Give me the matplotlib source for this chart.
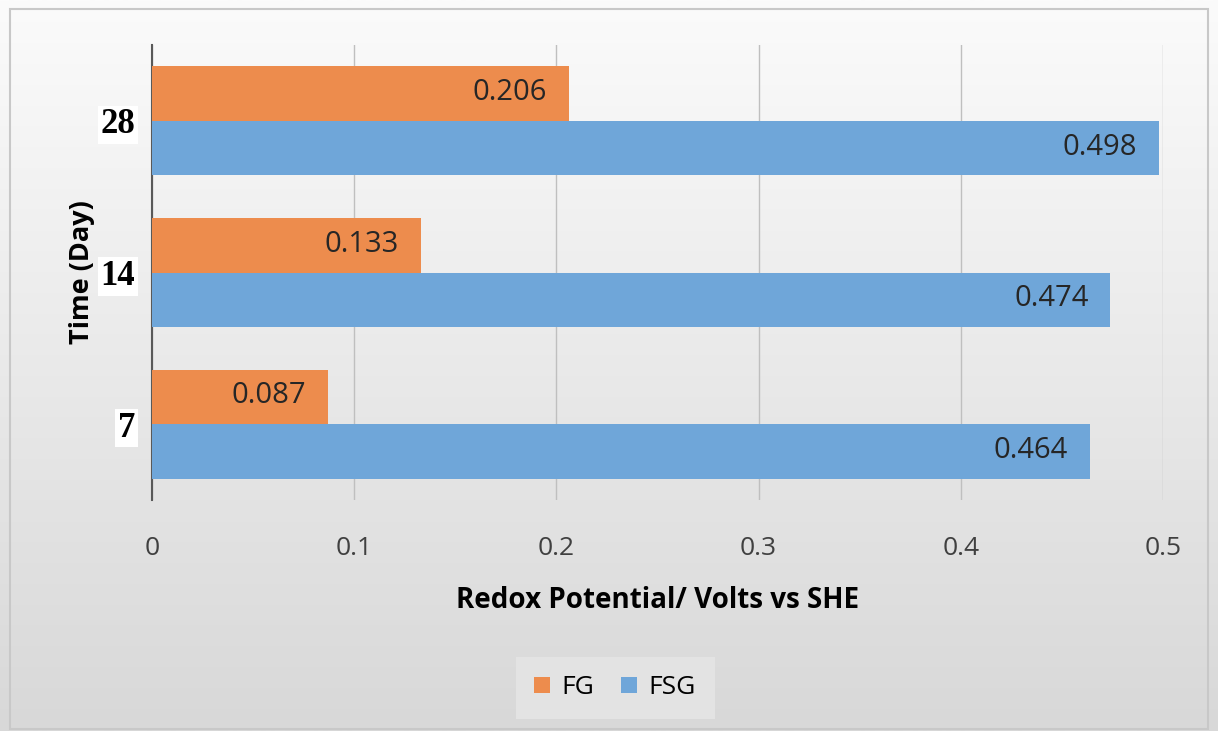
import matplotlib.pyplot as plt
import numpy as np
from matplotlib.patches import Rectangle
from matplotlib.colors import LinearSegmentedColormap

# === Dados ===
dias = ['7', '14', '28']
fg = [0.087, 0.133, 0.206]
fsg = [0.464, 0.474, 0.498]

cor_fg = '#ED8C4D'
cor_fsg = '#6FA6D9'

fig = plt.figure(figsize=(12.18, 7.31), dpi=100)

# fundo em degradê (branco no topo, cinza embaixo)
bg = fig.add_axes([0, 0, 1, 1], zorder=-10)
grad = np.linspace(0, 1, 256).reshape(-1, 1)
bg.imshow(grad, aspect='auto', cmap=LinearSegmentedColormap.from_list('g', ['#fbfbfb', '#d8d8d8']),
          extent=[0, 1, 0, 1], origin='upper')
bg.set_axis_off()
fig.patches.append(Rectangle((0.008, 0.003), 0.984, 0.985, transform=fig.transFigure,
                             fill=False, edgecolor='#c8c8c8', lw=1.5))

ax = fig.add_axes([0.1248, 0.316, 0.830, 0.6224])
ax.patch.set_alpha(0)

y = np.arange(len(dias))
h = 0.36
b1 = ax.barh(y + h / 2, fg, height=h, color=cor_fg, label='FG', zorder=3)
b2 = ax.barh(y - h / 2, fsg, height=h, color=cor_fsg, label='FSG', zorder=3)

# rótulos dentro da ponta das barras
for barras in (b1, b2):
    for b in barras:
        v = b.get_width()
        ax.annotate(f'{v:.3f}', (v, b.get_y() + b.get_height() / 2), xytext=(-22, 1),
                    textcoords='offset pixels', ha='right', va='center',
                    fontsize=21, color='#262626', family='Open Sans', zorder=4)

ax.set_xlim(0, 0.5)
ax.set_ylim(-0.5, 2.5)
ax.set_xticks(np.arange(0, 0.51, 0.1))
ax.set_xticklabels(['0', '0.1', '0.2', '0.3', '0.4', '0.5'], fontsize=19, color='#404040',
                   family='Open Sans')
ax.set_yticks(y)
ax.set_yticklabels(dias, fontsize=25, fontweight='bold', family='Liberation Serif')
for t in ax.get_yticklabels():
    t.set_bbox(dict(facecolor='white', edgecolor='none', pad=2))
ax.tick_params(axis='both', length=0)
ax.tick_params(axis='x', pad=26)
ax.tick_params(axis='y', pad=12)
ax.grid(axis='x', color='#bfbfbf', lw=1, zorder=0)
for s in ['top', 'right', 'bottom']:
    ax.spines[s].set_visible(False)
ax.spines['left'].set_color('#595959')
ax.spines['left'].set_linewidth(1.5)

ax.set_xlabel('Redox Potential/ Volts vs SHE', fontsize=20, fontweight='bold',
              family='Open Sans', labelpad=18)
ax.set_ylabel('Time (Day)', fontsize=19.5, fontweight='bold', family='Open Sans', labelpad=4)

leg = fig.legend(handles=[b1, b2], loc='center', bbox_to_anchor=(0.505, 0.059), ncol=2,
                 frameon=True, handlelength=0.6, handleheight=0.6,
                 columnspacing=1.0, borderpad=0.7, handletextpad=0.45,
                 prop={'family': 'Open Sans', 'size': 19})
leg.get_frame().set_facecolor('#e6e6e6')
leg.get_frame().set_edgecolor('none')
leg.get_frame().set_boxstyle('square', pad=0)

plt.savefig('out.png', dpi=100)
